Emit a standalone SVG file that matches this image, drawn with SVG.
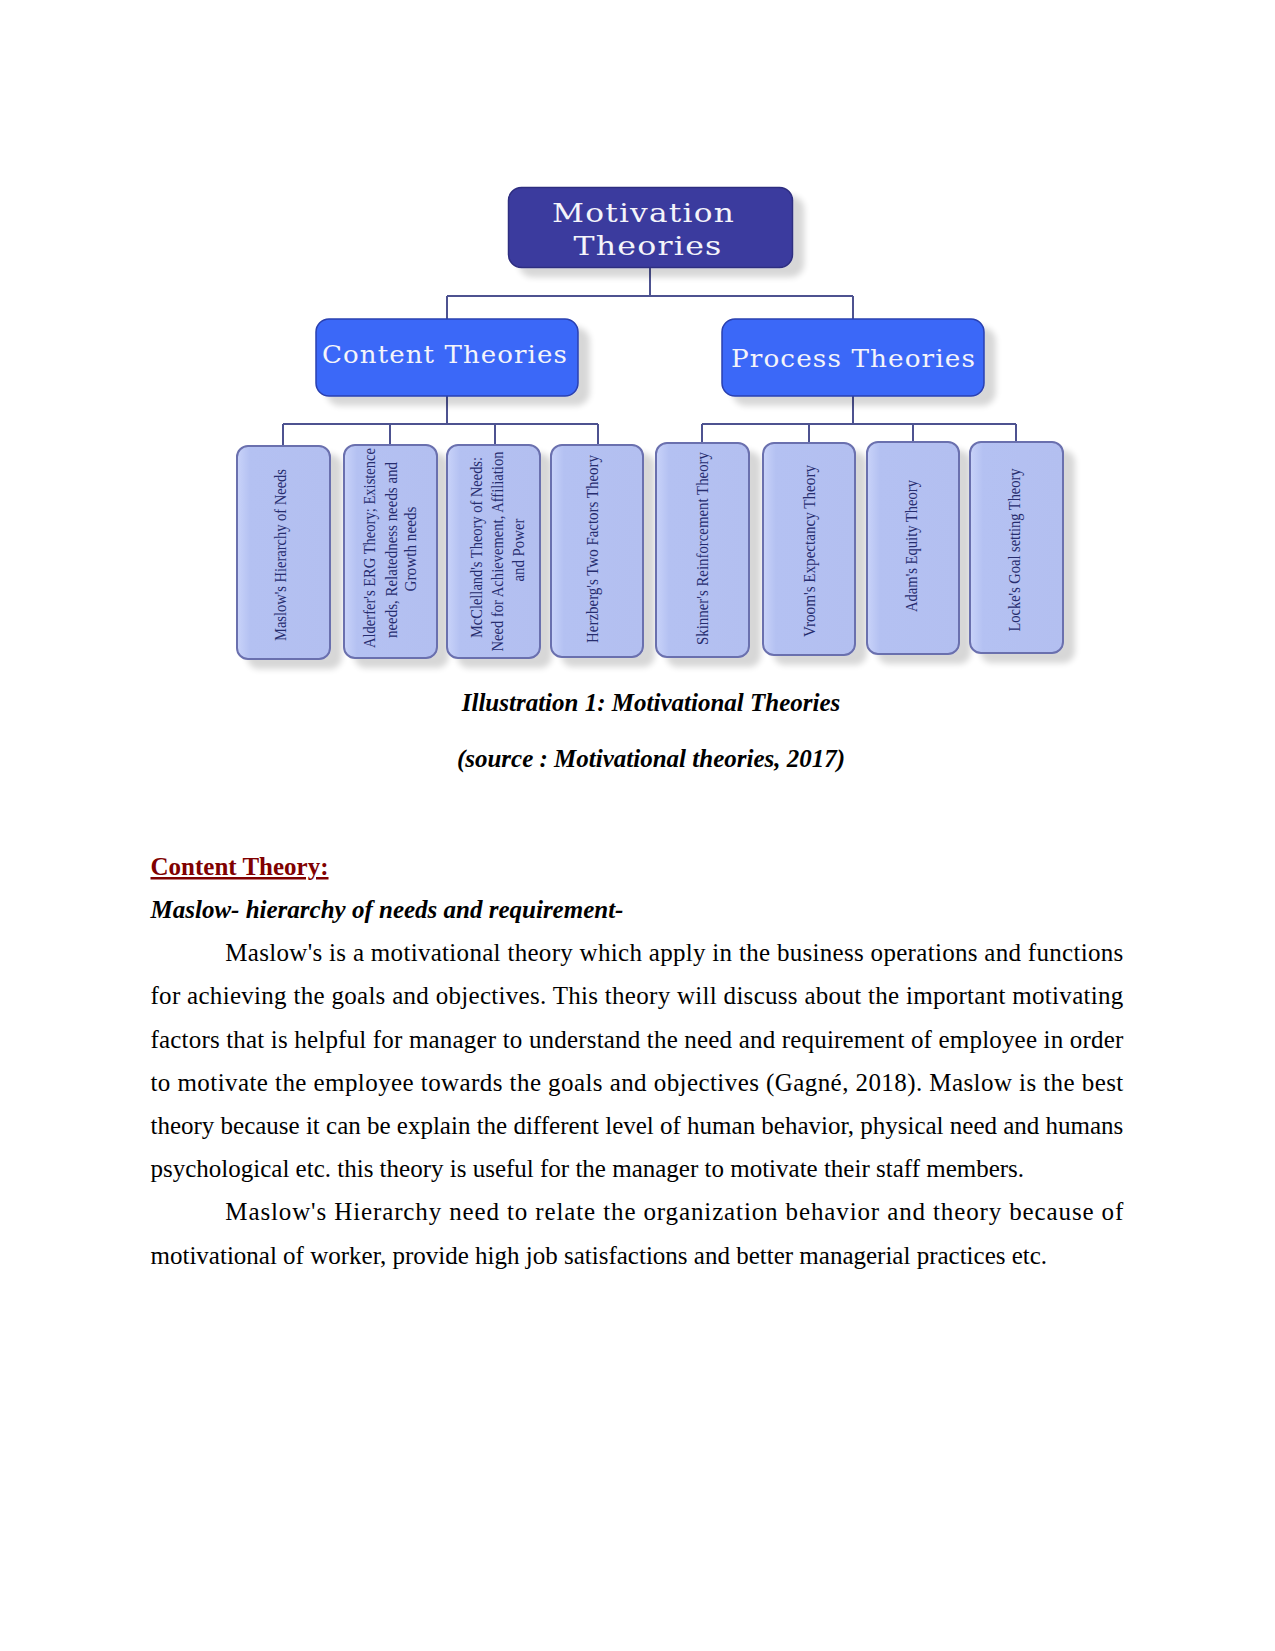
<svg xmlns="http://www.w3.org/2000/svg" width="1275" height="1651" viewBox="0 0 1275 1651">
<style>
.conn{stroke:#4d5290;stroke-width:2;fill:none}
.top{fill:#3b3b9e;stroke:#2d2d80;stroke-width:1.5}
.mid{fill:#3a68f8;stroke:#2a40b0;stroke-width:1.5}
.leaf{fill:url(#lg);stroke:#6b70ae;stroke-width:2}
.ht{font-family:"DejaVu Serif",serif;fill:#f4f4fa;text-anchor:middle;letter-spacing:1px}
.lt{font-family:"Liberation Serif",serif;font-size:17px;fill:#262c6e;text-anchor:middle}
.body{font-family:"Liberation Serif",serif;font-size:25px;fill:#000}
.bi{font-weight:bold;font-style:italic}
.head{font-weight:bold;fill:#800000;text-decoration:underline}
</style>
<defs>
<linearGradient id="lg" x1="0" y1="0" x2="1" y2="0">
<stop offset="0" stop-color="#c9d3f9"/>
<stop offset="0.14" stop-color="#b4c1f2"/>
<stop offset="1" stop-color="#b3bff0"/>
</linearGradient>
<filter id="ds" x="-20%" y="-20%" width="160%" height="160%">
<feGaussianBlur in="SourceAlpha" stdDeviation="3"/>
<feOffset dx="11" dy="9" result="o"/>
<feComponentTransfer><feFuncA type="linear" slope="0.16"/></feComponentTransfer>
<feMerge><feMergeNode/><feMergeNode in="SourceGraphic"/></feMerge>
</filter>
</defs>
<rect width="1275" height="1651" fill="#fff"/>

<g id="connectors">
<path class="conn" d="M650 267 V296 M447 296 H853 M447 296 V319 M853 296 V319"/>
<path class="conn" d="M447 396 V424 M283 424 H598 M283 424 V446 M390 424 V445 M495 424 V445 M598 424 V445"/>
<path class="conn" d="M853 396 V424 M702 424 H1016 M702 424 V443 M809 424 V443 M913 424 V442 M1016 424 V442"/>
</g>

<g id="motivation-theories">
<rect class="top" x="508.5" y="187.5" width="284" height="80" rx="13" filter="url(#ds)"/>
<text class="ht" x="643.5" y="222" font-size="26" textLength="183" lengthAdjust="spacingAndGlyphs">Motivation</text>
<text class="ht" x="648" y="255" font-size="26" textLength="149" lengthAdjust="spacingAndGlyphs">Theories</text>
</g>

<g id="content-theories">
<rect class="mid" x="316" y="319" width="262" height="77" rx="13" filter="url(#ds)"/>
<text class="ht" x="445" y="363" font-size="24" textLength="246" lengthAdjust="spacingAndGlyphs">Content Theories</text>
</g>

<g id="process-theories">
<rect class="mid" x="722" y="319" width="262" height="77" rx="13" filter="url(#ds)"/>
<text class="ht" x="853.5" y="367" font-size="24" textLength="245" lengthAdjust="spacingAndGlyphs">Process Theories</text>
</g>

<g id="maslow">
<rect class="leaf" x="237" y="446" width="93" height="213" rx="11" filter="url(#ds)"/>
<text class="lt" transform="translate(286,555) rotate(-90)" textLength="172" lengthAdjust="spacingAndGlyphs">Maslow's Hierarchy of Needs</text>
</g>

<g id="alderfer">
<rect class="leaf" x="344" y="445" width="93" height="213" rx="11" filter="url(#ds)"/>
<text class="lt" transform="translate(375,548) rotate(-90)" textLength="200" lengthAdjust="spacingAndGlyphs">Alderfer's  ERG Theory; Existence</text>
<text class="lt" transform="translate(396.5,550) rotate(-90)" textLength="176" lengthAdjust="spacingAndGlyphs">needs, Relatedness needs and</text>
<text class="lt" transform="translate(416,549) rotate(-90)" textLength="85" lengthAdjust="spacingAndGlyphs">Growth needs</text>
</g>

<g id="mcclelland">
<rect class="leaf" x="447" y="445" width="93" height="213" rx="11" filter="url(#ds)"/>
<text class="lt" transform="translate(482,547.5) rotate(-90)" textLength="181" lengthAdjust="spacingAndGlyphs">McClelland's Theory of Needs:</text>
<text class="lt" transform="translate(503,551.5) rotate(-90)" textLength="200" lengthAdjust="spacingAndGlyphs">Need for Achievement, Affiliation</text>
<text class="lt" transform="translate(524,550) rotate(-90)" textLength="63" lengthAdjust="spacingAndGlyphs">and Power</text>
</g>

<g id="herzberg">
<rect class="leaf" x="551" y="445" width="92" height="212" rx="11" filter="url(#ds)"/>
<text class="lt" transform="translate(598,549) rotate(-90)" textLength="188" lengthAdjust="spacingAndGlyphs">Herzberg's Two Factors Theory</text>
</g>

<g id="skinner">
<rect class="leaf" x="656" y="443" width="93" height="214" rx="11" filter="url(#ds)"/>
<text class="lt" transform="translate(708,548.5) rotate(-90)" textLength="193" lengthAdjust="spacingAndGlyphs">Skinner's Reinforcement Theory</text>
</g>

<g id="vroom">
<rect class="leaf" x="763" y="443" width="92" height="212" rx="11" filter="url(#ds)"/>
<text class="lt" transform="translate(814.5,551) rotate(-90)" textLength="172" lengthAdjust="spacingAndGlyphs">Vroom's  Expectancy Theory</text>
</g>

<g id="adam">
<rect class="leaf" x="867" y="442" width="92" height="212" rx="11" filter="url(#ds)"/>
<text class="lt" transform="translate(917,546) rotate(-90)" textLength="132" lengthAdjust="spacingAndGlyphs">Adam's Equity Theory</text>
</g>

<g id="locke">
<rect class="leaf" x="970" y="442" width="93" height="211" rx="11" filter="url(#ds)"/>
<text class="lt" transform="translate(1019.5,550) rotate(-90)" textLength="163" lengthAdjust="spacingAndGlyphs">Locke's Goal setting Theory</text>
</g>

<g id="text">
<text class="body bi" x="651" y="710.5" text-anchor="middle">Illustration 1: Motivational Theories</text>
<text class="body bi" x="651" y="766.5" text-anchor="middle">(source : Motivational theories, 2017)</text>
<text class="body head" x="150.5" y="875">Content Theory:</text>
<text class="body bi" x="150.5" y="918">Maslow- hierarchy of needs and requirement-</text>
<text class="body" x="225.3" y="961.2" textLength="898" lengthAdjust="spacing">Maslow's is a motivational theory which apply in the business operations and functions</text>
<text class="body" x="150.5" y="1004.4" textLength="972.8" lengthAdjust="spacing">for achieving the goals and objectives. This theory will discuss about the important motivating</text>
<text class="body" x="150.5" y="1047.6" textLength="972.8" lengthAdjust="spacing">factors that is helpful for manager to understand the need and requirement of employee in order</text>
<text class="body" x="150.5" y="1090.8" textLength="972.8" lengthAdjust="spacing">to motivate the employee towards the goals and objectives (Gagné, 2018). Maslow is the best</text>
<text class="body" x="150.5" y="1134" textLength="972.8" lengthAdjust="spacing">theory because it can be explain the different level of human behavior, physical need and humans</text>
<text class="body" x="150.5" y="1177.2">psychological etc. this theory is useful for the manager to motivate their staff members.</text>
<text class="body" x="225.3" y="1220.4" textLength="898" lengthAdjust="spacing">Maslow's Hierarchy need to relate the organization behavior and theory because of</text>
<text class="body" x="150.5" y="1263.6">motivational of worker, provide high job satisfactions and better managerial practices etc.</text>
</g>
</svg>
